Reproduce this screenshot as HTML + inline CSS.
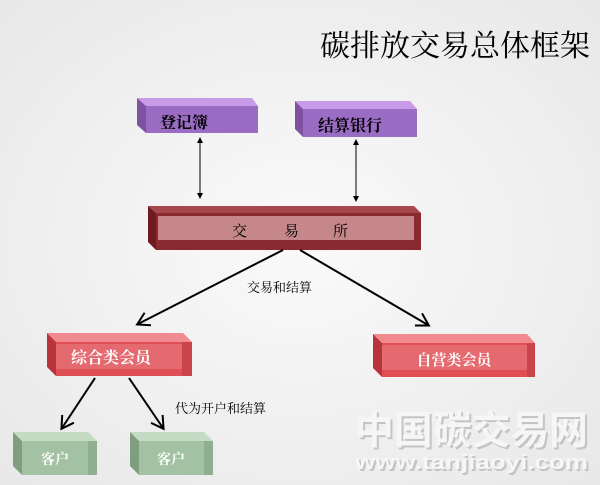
<!DOCTYPE html>
<html><head><meta charset="utf-8"><style>
html,body{margin:0;padding:0;background:#f3f3f3;}
svg{display:block}
text{font-family:"Liberation Serif","Noto Serif CJK SC",serif;}
text.wm{font-family:"Liberation Sans","Noto Sans CJK SC",sans-serif;font-weight:bold;}
</style></head><body>
<svg width="600" height="485" viewBox="0 0 600 485" xmlns="http://www.w3.org/2000/svg">
<defs>
<radialGradient id="bg" cx="0.5" cy="0.5" r="0.7"><stop offset="0" stop-color="#fafafa"/><stop offset="1" stop-color="#e8e8e8"/></radialGradient>
<marker id="as" markerWidth="6" markerHeight="6" refX="5" refY="3" orient="auto-start-reverse" markerUnits="userSpaceOnUse"><path d="M0,0 L6,3 L0,6Z" fill="#000"/></marker>
<marker id="big" markerWidth="16" markerHeight="16" refX="12" refY="8" orient="auto" markerUnits="userSpaceOnUse"><path d="M1,1 L13,8 L1,15" fill="none" stroke="#000" stroke-width="2"/></marker>
</defs>
<rect width="600" height="485" fill="url(#bg)"/>
<text x="590" y="56" font-size="30" text-anchor="end" fill="#000">碳排放交易总体框架</text>

<polygon points="137,98 252,98 258,106 146,106" fill="#c79be8"/>
<polygon points="137,98 146,106 146,133 137,125" fill="#7e52a0"/>
<rect x="146" y="106" width="112" height="27" fill="#9b6cc4"/>
<text x="160" y="128" font-size="16" font-weight="bold">登记簿</text>

<polygon points="295,101 410,101 417,109 303,109" fill="#c79be8"/>
<polygon points="295,101 303,109 303,137 295,129" fill="#7e52a0"/>
<rect x="303" y="109" width="114" height="28" fill="#9b6cc4"/>
<text x="318" y="131" font-size="16" font-weight="bold">结算银行</text>

<line x1="200" y1="138" x2="200" y2="198" stroke="#000" stroke-width="1" marker-start="url(#as)" marker-end="url(#as)"/>
<line x1="356" y1="140" x2="356" y2="201" stroke="#000" stroke-width="1" marker-start="url(#as)" marker-end="url(#as)"/>

<polygon points="148,206 414,206 421,213 156,213" fill="#a8474c"/>
<polygon points="148,206 156,213 156,250 148,242" fill="#6e1a20"/>
<rect x="156" y="213" width="265" height="37" fill="#8a2a30"/>
<rect x="158" y="216" width="256" height="24" fill="#c5878a"/>
<text x="232" y="236" font-size="15">交</text>
<text x="284" y="236" font-size="15">易</text>
<text x="333" y="236" font-size="15">所</text>

<line x1="283" y1="250" x2="138" y2="324" stroke="#000" stroke-width="2" marker-end="url(#big)"/>
<line x1="300" y1="250" x2="428" y2="325" stroke="#000" stroke-width="2" marker-end="url(#big)"/>
<text x="247" y="292" font-size="13">交易和结算</text>

<!-- 综合类会员 -->
<polygon points="47,333 183,333 192,342 56,342" fill="#f08a8e"/>
<polygon points="47,333 56,342 56,376 47,367" fill="#b8333a"/>
<rect x="56" y="342" width="136" height="34" fill="#df4f55"/>
<rect x="56" y="344" width="126" height="25" fill="#e46a6f"/>
<rect x="182" y="342" width="10" height="34" fill="#c9434a"/>
<text x="111" y="363" font-size="16" fill="#fff" font-weight="bold" text-anchor="middle">综合类会员</text>

<!-- 自营类会员 -->
<polygon points="373,334 527,334 535,343 382,343" fill="#f08a8e"/>
<polygon points="373,334 382,343 382,377 373,368" fill="#b8333a"/>
<rect x="382" y="343" width="153" height="34" fill="#df4f55"/>
<rect x="382" y="345" width="145" height="25" fill="#e46a6f"/>
<rect x="527" y="343" width="8" height="34" fill="#c9434a"/>
<text x="454" y="365" font-size="15" fill="#fff" font-weight="bold" text-anchor="middle">自营类会员</text>

<line x1="95" y1="378" x2="62" y2="428" stroke="#000" stroke-width="2" marker-end="url(#big)"/>
<line x1="129" y1="378" x2="163" y2="428" stroke="#000" stroke-width="2" marker-end="url(#big)"/>
<text x="175" y="413" font-size="13">代为开户和结算</text>

<!-- 客户 -->
<polygon points="13,432 88,432 97,441 22,441" fill="#c3dcc3"/>
<polygon points="13,432 22,441 22,475 13,466" fill="#7e9e7e"/>
<rect x="22" y="441" width="75" height="34" fill="#a3c2a3"/>
<rect x="88" y="441" width="9" height="34" fill="#8fb08f"/>
<text x="55" y="464" font-size="14" fill="#fff" font-weight="bold" text-anchor="middle">客户</text>

<polygon points="130,432 204,432 213,441 139,441" fill="#c3dcc3"/>
<polygon points="130,432 139,441 139,475 130,466" fill="#7e9e7e"/>
<rect x="139" y="441" width="74" height="34" fill="#a3c2a3"/>
<rect x="204" y="441" width="9" height="34" fill="#8fb08f"/>
<text x="171" y="464" font-size="14" fill="#fff" font-weight="bold" text-anchor="middle">客户</text>

<text class="wm" x="357" y="446" font-size="39" textLength="233" lengthAdjust="spacingAndGlyphs" fill="#c4c4c4">中国碳交易网</text>
<text class="wm" x="355" y="444" font-size="39" textLength="233" lengthAdjust="spacingAndGlyphs" fill="#f6f6f6">中国碳交易网</text>
<text class="wm" x="357" y="471" font-size="20" textLength="233" lengthAdjust="spacingAndGlyphs" fill="#c4c4c4">www.tanjiaoyi.com</text>
<text class="wm" x="355" y="469" font-size="20" textLength="233" lengthAdjust="spacingAndGlyphs" fill="#f6f6f6">www.tanjiaoyi.com</text>
</svg>
</body></html>
